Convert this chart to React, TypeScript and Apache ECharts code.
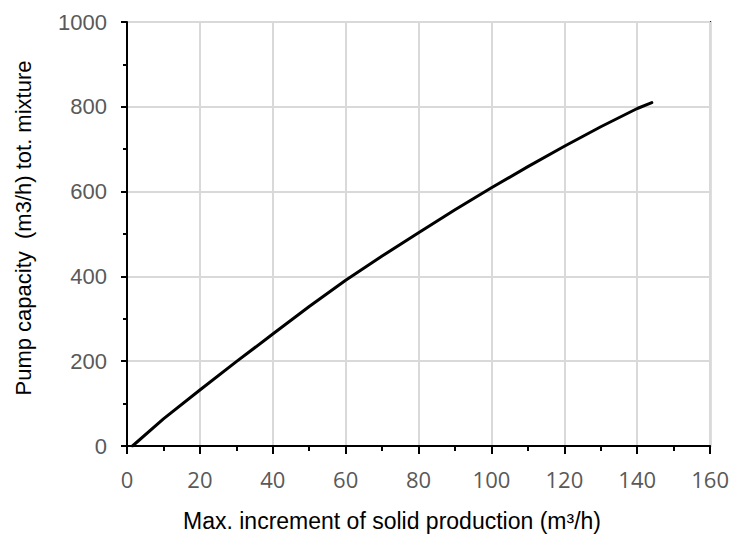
import React, { useEffect, useRef } from "react";
import * as echarts from "echarts";

const xValues = [1.5, 10, 20, 30, 40, 50, 60, 70, 80, 90, 100, 110, 120, 130, 140, 144];
const yValues = [0, 64, 132, 199, 264, 329, 391, 448, 503, 557, 609, 659, 707, 753, 796, 810];
const xTitle = "Max. increment of solid production (m³/h)";
const yTitle = "Pump capacity  (m3/h) tot. mixture";

export default function App() {
  const ref = useRef<HTMLDivElement>(null);
  useEffect(() => {
    const chart = echarts.init(ref.current!, null, { renderer: "svg" });
    const data = xValues.map((x, i) => [x, yValues[i]]);
    chart.setOption({
      animation: false,
      backgroundColor: "#ffffff",
      grid: {
        left: 127,
        right: 21,
        top: 22,
        bottom: 89,
        show: true,
        borderColor: "#000",
        borderWidth: 2,
      },
      xAxis: {
        type: "value",
        min: 0,
        max: 160,
        interval: 20,
        axisLine: { lineStyle: { color: "#000", width: 2 } },
        axisTick: { show: true, length: 8, lineStyle: { color: "#000", width: 2 } },
        minorTick: { show: true, splitNumber: 2, length: 5, lineStyle: { color: "#000", width: 2 } },
        splitLine: { show: true, lineStyle: { color: "#d9d9d9", width: 2 } },
        axisLabel: {
          margin: 22,
          color: "#595959",
          fontFamily: "Open Sans",
          fontSize: 22,
          showMaxLabel: true,
        },
      },
      yAxis: {
        type: "value",
        min: 0,
        max: 1000,
        interval: 200,
        axisLine: { show: true, lineStyle: { color: "#000", width: 2 } },
        axisTick: { show: true, length: 6, lineStyle: { color: "#000", width: 2 } },
        minorTick: { show: true, splitNumber: 2, length: 4, lineStyle: { color: "#000", width: 2 } },
        splitLine: { show: true, lineStyle: { color: "#d9d9d9", width: 2 } },
        axisLabel: {
          margin: 20,
          color: "#595959",
          fontFamily: "Liberation Sans",
          fontSize: 22,
          formatter: (v: number) => String(v),
        },
      },
      graphic: [
        {
          type: "text",
          x: 392,
          y: 521,
          style: {
            text: xTitle,
            fill: "#000",
            font: "23px 'Liberation Sans'",
            align: "center",
            verticalAlign: "middle",
          },
        },
        {
          type: "text",
          x: 23,
          y: 228,
          rotation: Math.PI / 2,
          style: {
            text: yTitle,
            fill: "#000",
            font: "22px 'Liberation Sans'",
            align: "center",
            verticalAlign: "middle",
          },
        },
      ],
      series: [
        {
          type: "line",
          data,
          smooth: false,
          showSymbol: false,
          lineStyle: { color: "#000", width: 3, join: "round", cap: "round" },
        },
      ],
    });
    return () => chart.dispose();
  }, []);
  return (
    <div
      ref={ref}
      style={{ position: "fixed", left: 0, top: 0, width: 732, height: 535 }}
    />
  );
}
